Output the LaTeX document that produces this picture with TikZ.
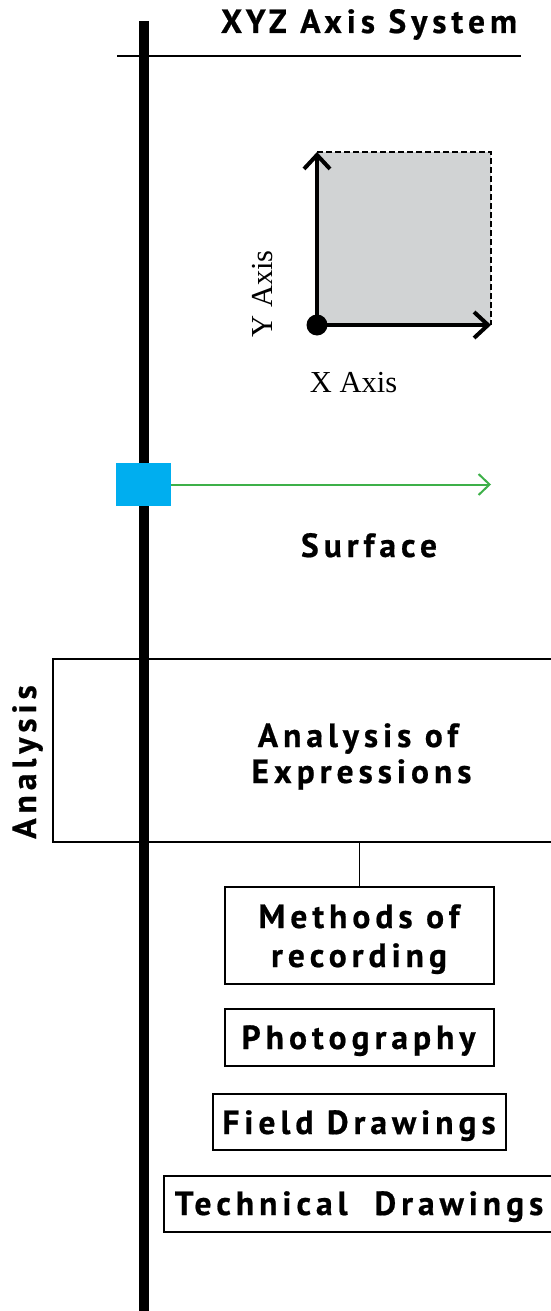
\documentclass[tikz,border=0pt]{standalone}
\usepackage{fontspec}
\setmainfont{Liberation Serif}
\newfontfamily\bsf{PT Sans}[LetterSpace=15, FakeBold=0.6]
\usetikzlibrary{arrows.meta}
\definecolor{sqgray}{HTML}{D1D3D4}
\definecolor{cyanbox}{HTML}{00AEEF}
\definecolor{arrgreen}{HTML}{3DB049}
\tikzset{
  boldlbl/.style={font=\bsf\bfseries\fontsize{33.5}{40}\selectfont, inner sep=0pt, anchor=base},
  seriflbl/.style={font=\fontsize{30.5}{36}\selectfont, inner sep=0pt, anchor=base},
  framebox/.style={draw=black, line width=2pt, inner sep=0pt, fill=none},
  axisarrow/.style={line width=4pt, -{Straight Barb[length=14pt,width=26pt]}},
}
\begin{document}
\begin{tikzpicture}[x=1pt,y=-1pt]
\useasboundingbox (0,0) rectangle (551,1311);
% gray square
\fill[sqgray] (317,152) rectangle (491,325);
\draw[line width=1.6pt, dash pattern=on 6pt off 3pt] (317,152) -- (491,152) -- (491,325);
% axes
\coordinate (origin) at (317,325);
\coordinate (ytip) at (317,152);
\coordinate (xtip) at (491,325);
\draw[axisarrow] (origin) -- (ytip);
\draw[axisarrow] (origin) -- (xtip);
\fill (origin) circle (10.5pt);
\node[seriflbl, rotate=90] (ylab) at (272,294) {Y Axis};
\node[seriflbl] (xlab) at (353.5,392) {X Axis};
% title
\node[boldlbl] (title) at (369,33) {XYZ Axis System};
\coordinate (tl) at (117,56);
\coordinate (tr) at (521,56);
\draw[line width=2pt] (tl) -- (tr);
% analysis box
\node[framebox, minimum width=520pt, minimum height=183pt] (analysis) at (313,750.5) {};
\node[boldlbl] (an1) at (358,747) {Analysis of};
\node[boldlbl] (an2) at (361.5,783) {Expressions};
\node[boldlbl, rotate=90] (anside) at (36,762) {Analysis};
% main vertical line
\coordinate (vtop) at (144,21);
\coordinate (vbot) at (144,1311);
\draw[line width=10pt] (vtop) -- (vbot);
% blue square and green arrow
\node[fill=cyanbox, minimum width=55pt, minimum height=43pt, inner sep=0pt] (blue) at (143.5,484.5) {};
\coordinate (gtip) at (491,484.5);
\draw[arrgreen, line width=2pt, -{Straight Barb[length=11pt,width=21pt]}] (blue.east) -- (gtip);
\node[boldlbl] (surface) at (369,557) {Surface};
% recording boxes
\node[framebox, minimum width=269pt, minimum height=97pt] (methods) at (359.5,935.5) {};
\node[boldlbl] (m1) at (359,928) {Methods of};
\node[boldlbl] (m2) at (359,967) {recording};
\draw[line width=1.5pt] (methods.north |- analysis.south) -- (methods.north);
\node[framebox, minimum width=269pt, minimum height=57pt] (photo) at (359.5,1037.5) {};
\node[boldlbl] (p1) at (358.5,1049) {Photography};
\node[framebox, minimum width=293pt, minimum height=56pt] (field) at (359.5,1122) {};
\node[boldlbl] (f1) at (359,1134) {Field Drawings};
\node[framebox, minimum width=400pt, minimum height=56pt] (tech) at (364,1204) {};
\node[boldlbl] (t1) at (359,1215) {Technical\ \ Drawings};
\end{tikzpicture}
\end{document}
